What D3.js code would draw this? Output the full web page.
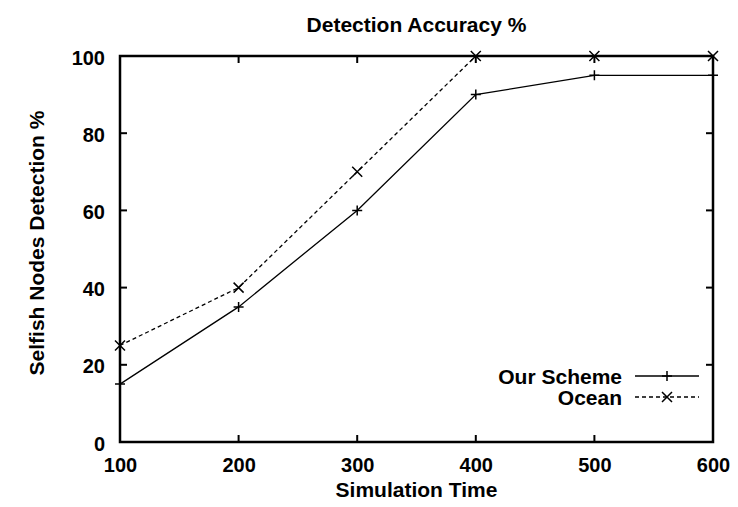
<!DOCTYPE html>
<html>
<head>
<meta charset="utf-8">
<script src="https://cdn.jsdelivr.net/npm/d3@7"></script>
<style>
  html, body { margin: 0; padding: 0; background: #fff; }
  svg text { font-family: "Liberation Sans", Arial, sans-serif; fill: #000; }
</style>
</head>
<body>
<svg id="chart" width="738" height="507"></svg>
<script>
// Simulation times on the x axis
const simTimes = [100, 200, 300, 400, 500, 600];
// Detection percentages for each scheme
const ourScheme = [15, 35, 60, 90, 95, 95];
const ocean = [25, 40, 70, 100, 100, 100];
// Axis ticks
const xTicks = [100, 200, 300, 400, 500, 600];
const yTicks = [0, 20, 40, 60, 80, 100];

const svg = d3.select("#chart");
const margin = { left: 120, right: 25, top: 56, bottom: 65 };
const W = 738, H = 507;

const x = d3.scaleLinear().domain([100, 600]).range([margin.left, W - margin.right]);
const y = d3.scaleLinear().domain([0, 100]).range([H - margin.bottom, margin.top]);

const fs = 21;
const tfs = 20;

// Title
svg.append("text")
  .attr("x", (x.range()[0] + x.range()[1]) / 2)
  .attr("y", 32)
  .attr("text-anchor", "middle")
  .attr("font-size", fs)
  .attr("font-weight", "bold")
  .text("Detection Accuracy %");

// Ticks on all four sides, pointing inward
const tickLen = 7;
const tickG = svg.append("g").attr("stroke", "#000").attr("stroke-width", 2);
xTicks.forEach(t => {
  tickG.append("line").attr("x1", x(t)).attr("x2", x(t)).attr("y1", y(0)).attr("y2", y(0) - tickLen);
  tickG.append("line").attr("x1", x(t)).attr("x2", x(t)).attr("y1", y(100)).attr("y2", y(100) + tickLen);
});
yTicks.forEach(t => {
  tickG.append("line").attr("x1", x(100)).attr("x2", x(100) + tickLen).attr("y1", y(t)).attr("y2", y(t));
  tickG.append("line").attr("x1", x(600)).attr("x2", x(600) - tickLen).attr("y1", y(t)).attr("y2", y(t));
});

// Axis labels
const xAxis = d3.axisBottom(x).tickValues(xTicks).tickSize(0).tickPadding(16).tickFormat(d3.format("d"));
const gx = svg.append("g").attr("transform", `translate(0,${y(0)})`).call(xAxis);
gx.select(".domain").remove();
gx.selectAll("text").attr("font-size", tfs).attr("font-weight", "bold")
  .attr("font-family", "Liberation Sans, Arial, sans-serif").attr("dy", "0.71em");

const yAxis = d3.axisLeft(y).tickValues(yTicks).tickSize(0).tickPadding(15).tickFormat(d3.format("d"));
const gy = svg.append("g").attr("transform", `translate(${x(100)},0)`).call(yAxis);
gy.select(".domain").remove();
gy.selectAll("text").attr("font-size", tfs).attr("font-weight", "bold")
  .attr("font-family", "Liberation Sans, Arial, sans-serif").attr("dy", "0.4em");

// Plot border
svg.append("rect")
  .attr("x", x(100)).attr("y", y(100))
  .attr("width", x(600) - x(100)).attr("height", y(0) - y(100))
  .attr("fill", "none").attr("stroke", "#000").attr("stroke-width", 2.5);

// Axis titles
svg.append("text")
  .attr("x", (x.range()[0] + x.range()[1]) / 2)
  .attr("y", 497)
  .attr("text-anchor", "middle")
  .attr("font-size", fs)
  .attr("font-weight", "bold")
  .text("Simulation Time");

svg.append("text")
  .attr("transform", `translate(44,243) rotate(-90)`)
  .attr("text-anchor", "middle")
  .attr("font-size", fs)
  .attr("font-weight", "bold")
  .text("Selfish Nodes Detection %");

// Series
const line = d3.line().x(d => x(d[0])).y(d => y(d[1]));
const ms = 5;
function plusPath(cx, cy) { return `M${cx - ms},${cy}H${cx + ms}M${cx},${cy - ms}V${cy + ms}`; }
function crossPath(cx, cy) { return `M${cx - ms},${cy - ms}L${cx + ms},${cy + ms}M${cx - ms},${cy + ms}L${cx + ms},${cy - ms}`; }

const series = [
  { name: "Our Scheme", values: ourScheme, dash: null, marker: plusPath },
  { name: "Ocean", values: ocean, dash: "4,3", marker: crossPath }
];

series.forEach(s => {
  const pts = simTimes.map((t, i) => [t, s.values[i]]);
  svg.append("path").datum(pts).attr("d", line)
    .attr("fill", "none").attr("stroke", "#000").attr("stroke-width", 1.3)
    .attr("stroke-dasharray", s.dash);
  svg.append("path")
    .attr("d", pts.map(p => s.marker(x(p[0]), y(p[1]))).join(""))
    .attr("fill", "none").attr("stroke", "#000").attr("stroke-width", 1.5);
});

// Legend
const legY = [376, 397];
series.forEach((s, i) => {
  svg.append("text")
    .attr("x", 622).attr("y", legY[i]).attr("dy", "0.36em")
    .attr("text-anchor", "end").attr("font-size", fs).attr("font-weight", "bold")
    .text(s.name);
  svg.append("line")
    .attr("x1", 635).attr("x2", 699).attr("y1", legY[i]).attr("y2", legY[i])
    .attr("stroke", "#000").attr("stroke-width", 1.3).attr("stroke-dasharray", s.dash);
  svg.append("path").attr("d", s.marker(667, legY[i]))
    .attr("fill", "none").attr("stroke", "#000").attr("stroke-width", 1.5);
});
</script>
</body>
</html>
